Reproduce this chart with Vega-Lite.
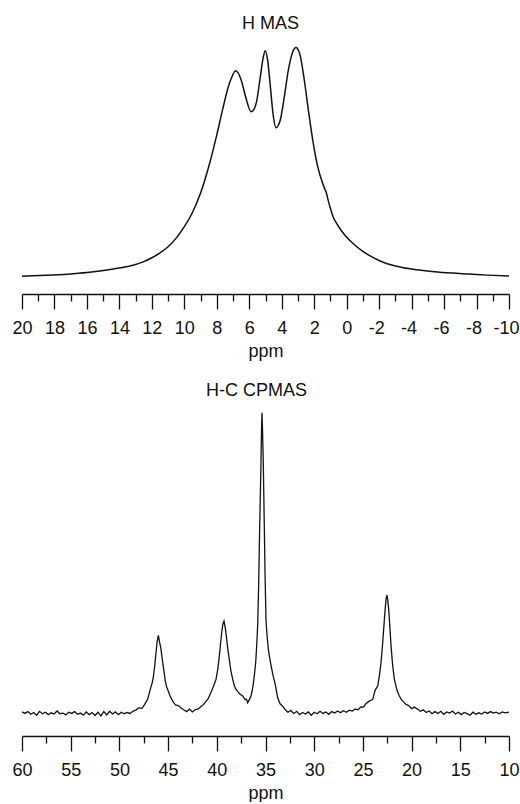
{
  "$schema": "https://vega.github.io/schema/vega-lite/v6.json",
  "background": "white",
  "padding": {"left": 11, "top": 15, "right": 0, "bottom": 0},
  "spacing": 22,
  "config": {
    "view": {"stroke": null},
    "font": "Liberation Sans",
    "title": {"fontSize": 18, "fontWeight": "normal", "color": "#111", "offset": 6, "anchor": "middle", "font": "Liberation Sans"},
    "axis": {"domainColor": "#111", "domainWidth": 1.3, "tickColor": "#111", "tickWidth": 1.3, "labelFontSize": 18, "labelColor": "#111", "titleFontSize": 18, "titleFontWeight": "normal", "titleColor": "#111", "grid": false, "labelFont": "Liberation Sans", "titleFont": "Liberation Sans"}
  },
  "datasets": {
    "hmas": [
      {"ppm": 20.0, "intensity": 0.1}, {"ppm": 18.5, "intensity": 0.5}, {"ppm": 17.2, "intensity": 1.0}, {"ppm": 16.0, "intensity": 1.7},
      {"ppm": 15.1, "intensity": 2.5}, {"ppm": 14.0, "intensity": 3.7}, {"ppm": 13.1, "intensity": 5.0}, {"ppm": 12.5, "intensity": 6.5},
      {"ppm": 12.0, "intensity": 8.2}, {"ppm": 11.5, "intensity": 10.3}, {"ppm": 11.0, "intensity": 13.0}, {"ppm": 10.5, "intensity": 16.8},
      {"ppm": 10.0, "intensity": 21.8}, {"ppm": 9.5, "intensity": 28.0}, {"ppm": 9.0, "intensity": 36.5}, {"ppm": 8.5, "intensity": 48.0},
      {"ppm": 8.0, "intensity": 62.0}, {"ppm": 7.65, "intensity": 72.8},
      {"ppm": 7.25, "intensity": 84.0}, {"ppm": 7.0, "intensity": 88.5}, {"ppm": 6.86, "intensity": 90.0},
      {"ppm": 6.7, "intensity": 89.2}, {"ppm": 6.5, "intensity": 86.0}, {"ppm": 6.2, "intensity": 78.0}, {"ppm": 5.89, "intensity": 72.1},
      {"ppm": 5.7, "intensity": 73.3}, {"ppm": 5.55, "intensity": 76.5}, {"ppm": 5.32, "intensity": 87.4}, {"ppm": 5.13, "intensity": 96.2},
      {"ppm": 5.01, "intensity": 98.8}, {"ppm": 4.87, "intensity": 94.8}, {"ppm": 4.7, "intensity": 83.1}, {"ppm": 4.54, "intensity": 71.4},
      {"ppm": 4.35, "intensity": 65.1}, {"ppm": 4.2, "intensity": 66.3}, {"ppm": 4.09, "intensity": 68.5}, {"ppm": 3.84, "intensity": 78.7},
      {"ppm": 3.59, "intensity": 90.4}, {"ppm": 3.32, "intensity": 98.4}, {"ppm": 3.12, "intensity": 100.2}, {"ppm": 2.95, "intensity": 98.6},
      {"ppm": 2.87, "intensity": 96.9}, {"ppm": 2.61, "intensity": 86.0}, {"ppm": 2.36, "intensity": 72.9}, {"ppm": 2.09, "intensity": 59.7},
      {"ppm": 1.78, "intensity": 48.0}, {"ppm": 1.48, "intensity": 40.8}, {"ppm": 1.32, "intensity": 37.8}, {"ppm": 1.27, "intensity": 37.1},
      {"ppm": 1.17, "intensity": 34.2}, {"ppm": 1.0, "intensity": 29.8}, {"ppm": 0.86, "intensity": 26.6}, {"ppm": 0.6, "intensity": 23.0},
      {"ppm": 0.3, "intensity": 19.8}, {"ppm": 0.0, "intensity": 17.2}, {"ppm": -0.5, "intensity": 13.8}, {"ppm": -1.0, "intensity": 11.0},
      {"ppm": -1.5, "intensity": 8.8}, {"ppm": -2.0, "intensity": 7.0}, {"ppm": -2.5, "intensity": 5.6}, {"ppm": -3.0, "intensity": 4.6},
      {"ppm": -3.5, "intensity": 3.85}, {"ppm": -4.3, "intensity": 3.0},
      {"ppm": -5.4, "intensity": 2.1}, {"ppm": -6.5, "intensity": 1.5}, {"ppm": -7.5, "intensity": 1.1},
      {"ppm": -8.7, "intensity": 0.6}, {"ppm": -10.0, "intensity": 0.2}
    ],
    "cpmas": [
      {"ppm": 60.0, "intensity": 0.3}, {"ppm": 59.7, "intensity": -0.2}, {"ppm": 59.4, "intensity": 0.4}, {"ppm": 59.1, "intensity": -0.5},
      {"ppm": 58.8, "intensity": 0.1}, {"ppm": 58.5, "intensity": -0.8}, {"ppm": 58.2, "intensity": 0.5}, {"ppm": 57.9, "intensity": -0.3},
      {"ppm": 57.6, "intensity": 0.2}, {"ppm": 57.3, "intensity": -0.6}, {"ppm": 57.0, "intensity": 0.0}, {"ppm": 56.7, "intensity": -0.4},
      {"ppm": 56.4, "intensity": 0.6}, {"ppm": 56.1, "intensity": -0.3}, {"ppm": 55.8, "intensity": -0.1}, {"ppm": 55.5, "intensity": -0.7},
      {"ppm": 55.2, "intensity": 0.2}, {"ppm": 54.9, "intensity": -0.2}, {"ppm": 54.6, "intensity": 0.4}, {"ppm": 54.3, "intensity": -0.5},
      {"ppm": 54.0, "intensity": -0.1}, {"ppm": 53.7, "intensity": -0.8}, {"ppm": 53.4, "intensity": 0.3}, {"ppm": 53.1, "intensity": -0.6},
      {"ppm": 52.8, "intensity": 0.1}, {"ppm": 52.5, "intensity": -0.9}, {"ppm": 52.2, "intensity": 0.2}, {"ppm": 51.9, "intensity": -1.0},
      {"ppm": 51.6, "intensity": 0.4}, {"ppm": 51.3, "intensity": -0.7}, {"ppm": 51.0, "intensity": 0.5}, {"ppm": 50.7, "intensity": -0.4},
      {"ppm": 50.4, "intensity": 0.3}, {"ppm": 50.1, "intensity": -0.6}, {"ppm": 49.8, "intensity": 0.2}, {"ppm": 49.5, "intensity": -0.3},
      {"ppm": 49.2, "intensity": 0.1}, {"ppm": 48.9, "intensity": -0.2}, {"ppm": 48.6, "intensity": 0.6}, {"ppm": 48.3, "intensity": 0.9},
      {"ppm": 48.0, "intensity": 1.7}, {"ppm": 47.7, "intensity": 1.4}, {"ppm": 47.4, "intensity": 2.8}, {"ppm": 47.1, "intensity": 4.5},
      {"ppm": 46.83, "intensity": 7.8}, {"ppm": 46.65, "intensity": 9.8}, {"ppm": 46.52, "intensity": 11.7}, {"ppm": 46.38, "intensity": 15.5},
      {"ppm": 46.24, "intensity": 20.1}, {"ppm": 46.12, "intensity": 23.8}, {"ppm": 46.0, "intensity": 25.8}, {"ppm": 45.87, "intensity": 23.5},
      {"ppm": 45.73, "intensity": 21.2}, {"ppm": 45.6, "intensity": 17.8}, {"ppm": 45.45, "intensity": 14.5}, {"ppm": 45.3, "intensity": 10.8},
      {"ppm": 45.15, "intensity": 8.6}, {"ppm": 45.04, "intensity": 7.8}, {"ppm": 44.8, "intensity": 5.6}, {"ppm": 44.53, "intensity": 3.9},
      {"ppm": 44.25, "intensity": 2.6}, {"ppm": 43.95, "intensity": 2.4}, {"ppm": 43.67, "intensity": 1.6}, {"ppm": 43.4, "intensity": 1.0},
      {"ppm": 43.1, "intensity": 0.4}, {"ppm": 42.8, "intensity": 1.2}, {"ppm": 42.5, "intensity": 0.3}, {"ppm": 42.2, "intensity": 1.1},
      {"ppm": 41.9, "intensity": 1.3}, {"ppm": 41.62, "intensity": 2.1}, {"ppm": 41.35, "intensity": 2.8}, {"ppm": 41.1, "intensity": 3.9},
      {"ppm": 40.9, "intensity": 4.6}, {"ppm": 40.77, "intensity": 5.6}, {"ppm": 40.5, "intensity": 7.5}, {"ppm": 40.3, "intensity": 9.2},
      {"ppm": 40.08, "intensity": 11.2}, {"ppm": 39.9, "intensity": 14.5}, {"ppm": 39.74, "intensity": 18.9}, {"ppm": 39.6, "intensity": 23.5},
      {"ppm": 39.5, "intensity": 26.7}, {"ppm": 39.38, "intensity": 29.5}, {"ppm": 39.26, "intensity": 30.6}, {"ppm": 39.14, "intensity": 28.5},
      {"ppm": 39.02, "intensity": 25.6}, {"ppm": 38.88, "intensity": 21.5}, {"ppm": 38.72, "intensity": 17.8}, {"ppm": 38.55, "intensity": 14.0},
      {"ppm": 38.37, "intensity": 11.2}, {"ppm": 38.2, "intensity": 9.0}, {"ppm": 38.03, "intensity": 7.8}, {"ppm": 37.8, "intensity": 6.9},
      {"ppm": 37.6, "intensity": 6.2}, {"ppm": 37.34, "intensity": 5.6}, {"ppm": 37.1, "intensity": 4.4}, {"ppm": 36.95, "intensity": 4.5},
      {"ppm": 36.83, "intensity": 3.4}, {"ppm": 36.65, "intensity": 4.4}, {"ppm": 36.49, "intensity": 5.6}, {"ppm": 36.3, "intensity": 8.5},
      {"ppm": 36.15, "intensity": 12.3}, {"ppm": 36.0, "intensity": 17.0}, {"ppm": 35.87, "intensity": 24.5}, {"ppm": 35.8, "intensity": 29.5},
      {"ppm": 35.7, "intensity": 43.0}, {"ppm": 35.6, "intensity": 61.7}, {"ppm": 35.52, "intensity": 74.0}, {"ppm": 35.46, "intensity": 83.9},
      {"ppm": 35.41, "intensity": 94.0}, {"ppm": 35.36, "intensity": 100.0}, {"ppm": 35.31, "intensity": 95.0}, {"ppm": 35.23, "intensity": 83.9},
      {"ppm": 35.12, "intensity": 61.7}, {"ppm": 35.04, "intensity": 45.0}, {"ppm": 34.95, "intensity": 31.0}, {"ppm": 34.85, "intensity": 26.0},
      {"ppm": 34.7, "intensity": 21.0}, {"ppm": 34.5, "intensity": 17.0}, {"ppm": 34.26, "intensity": 13.0}, {"ppm": 34.0, "intensity": 9.5},
      {"ppm": 33.75, "intensity": 5.0}, {"ppm": 33.5, "intensity": 3.0}, {"ppm": 33.25, "intensity": 2.2}, {"ppm": 33.0, "intensity": 1.2},
      {"ppm": 32.7, "intensity": 0.2}, {"ppm": 32.4, "intensity": 0.8}, {"ppm": 32.1, "intensity": -0.3}, {"ppm": 31.8, "intensity": 0.5},
      {"ppm": 31.5, "intensity": -0.6}, {"ppm": 31.2, "intensity": 0.1}, {"ppm": 30.9, "intensity": -0.4}, {"ppm": 30.6, "intensity": 0.3},
      {"ppm": 30.3, "intensity": -0.8}, {"ppm": 30.0, "intensity": 0.2}, {"ppm": 29.7, "intensity": -0.3}, {"ppm": 29.4, "intensity": 0.5},
      {"ppm": 29.1, "intensity": -0.2}, {"ppm": 28.8, "intensity": 0.3}, {"ppm": 28.5, "intensity": -0.5}, {"ppm": 28.2, "intensity": 0.4},
      {"ppm": 27.9, "intensity": -0.1}, {"ppm": 27.6, "intensity": 0.6}, {"ppm": 27.3, "intensity": 0.0}, {"ppm": 27.0, "intensity": 0.7},
      {"ppm": 26.7, "intensity": 0.2}, {"ppm": 26.4, "intensity": 0.9}, {"ppm": 26.1, "intensity": 0.6}, {"ppm": 25.8, "intensity": 1.3},
      {"ppm": 25.5, "intensity": 1.0}, {"ppm": 25.2, "intensity": 2.0}, {"ppm": 24.95, "intensity": 1.9}, {"ppm": 24.7, "intensity": 3.0},
      {"ppm": 24.4, "intensity": 3.8}, {"ppm": 24.15, "intensity": 4.2}, {"ppm": 23.99, "intensity": 4.5}, {"ppm": 23.75, "intensity": 7.5},
      {"ppm": 23.48, "intensity": 8.9}, {"ppm": 23.3, "intensity": 12.5}, {"ppm": 23.14, "intensity": 16.7}, {"ppm": 23.0, "intensity": 22.0},
      {"ppm": 22.87, "intensity": 27.8}, {"ppm": 22.75, "intensity": 33.0}, {"ppm": 22.63, "intensity": 37.8}, {"ppm": 22.53, "intensity": 39.2},
      {"ppm": 22.45, "intensity": 37.5}, {"ppm": 22.35, "intensity": 34.5}, {"ppm": 22.22, "intensity": 28.0}, {"ppm": 22.11, "intensity": 22.3},
      {"ppm": 21.95, "intensity": 16.0}, {"ppm": 21.77, "intensity": 11.2}, {"ppm": 21.5, "intensity": 7.5}, {"ppm": 21.26, "intensity": 5.6},
      {"ppm": 21.0, "intensity": 4.2}, {"ppm": 20.75, "intensity": 3.4}, {"ppm": 20.57, "intensity": 2.8}, {"ppm": 20.3, "intensity": 2.4},
      {"ppm": 20.0, "intensity": 1.4}, {"ppm": 19.7, "intensity": 1.9}, {"ppm": 19.37, "intensity": 1.2}, {"ppm": 19.1, "intensity": 0.5},
      {"ppm": 18.8, "intensity": 1.0}, {"ppm": 18.5, "intensity": 0.1}, {"ppm": 18.2, "intensity": 0.6}, {"ppm": 17.9, "intensity": -0.3},
      {"ppm": 17.6, "intensity": 0.4}, {"ppm": 17.3, "intensity": -0.2}, {"ppm": 17.0, "intensity": 0.5}, {"ppm": 16.7, "intensity": -0.5},
      {"ppm": 16.4, "intensity": 0.3}, {"ppm": 16.1, "intensity": -0.1}, {"ppm": 15.8, "intensity": 0.6}, {"ppm": 15.5, "intensity": -0.4},
      {"ppm": 15.2, "intensity": 0.2}, {"ppm": 14.9, "intensity": -0.6}, {"ppm": 14.6, "intensity": 0.1}, {"ppm": 14.3, "intensity": -0.3},
      {"ppm": 14.0, "intensity": -0.8}, {"ppm": 13.7, "intensity": 0.2}, {"ppm": 13.4, "intensity": -0.5}, {"ppm": 13.1, "intensity": 0.0},
      {"ppm": 12.8, "intensity": -0.4}, {"ppm": 12.5, "intensity": 0.3}, {"ppm": 12.2, "intensity": -0.2}, {"ppm": 11.9, "intensity": 0.4},
      {"ppm": 11.6, "intensity": -0.1}, {"ppm": 11.3, "intensity": 0.2}, {"ppm": 11.0, "intensity": -0.3}, {"ppm": 10.7, "intensity": 0.3},
      {"ppm": 10.4, "intensity": 0.0}, {"ppm": 10.0, "intensity": 0.2}
    ]
  },
  "vconcat": [
    {
      "width": 487,
      "height": 255,
      "title": {"text": "H MAS", "dx": 5},
      "data": {"name": "hmas"},
      "mark": {"type": "line", "color": "#111", "strokeWidth": 1.5, "interpolate": "monotone"},
      "encoding": {
        "x": {
          "field": "ppm", "type": "quantitative",
          "scale": {"domain": [-10, 20], "reverse": true, "nice": false, "zero": false},
          "axis": {
            "title": "ppm",
            "values": [-10, -9, -8, -7, -6, -5, -4, -3, -2, -1, 0, 1, 2, 3, 4, 5, 6, 7, 8, 9, 10, 11, 12, 13, 14, 15, 16, 17, 18, 19, 20],
            "tickSize": {"condition": {"test": "datum.value % 2 === 0", "value": 15}, "value": 7},
            "labelOffset": {"condition": {"test": "datum.value < 0", "value": -3}, "value": 0},
            "labelExpr": "datum.value % 2 === 0 ? '' + datum.value : ''",
            "labelOverlap": false,
            "labelFlush": false,
            "labelPadding": 10,
            "titlePadding": 5
          }
        },
        "y": {"field": "intensity", "type": "quantitative", "scale": {"domain": [-7.66, 103.94], "nice": false, "zero": false}, "axis": null}
      }
    },
    {
      "width": 487,
      "height": 330,
      "title": {"text": "H-C CPMAS", "dx": -9},
      "data": {"name": "cpmas"},
      "mark": {"type": "line", "color": "#111", "strokeWidth": 1.3, "interpolate": "linear"},
      "encoding": {
        "x": {
          "field": "ppm", "type": "quantitative",
          "scale": {"domain": [10, 60], "reverse": true, "nice": false, "zero": false},
          "axis": {
            "title": "ppm",
            "values": [10, 12.5, 15, 17.5, 20, 22.5, 25, 27.5, 30, 32.5, 35, 37.5, 40, 42.5, 45, 47.5, 50, 52.5, 55, 57.5, 60],
            "tickSize": {"condition": {"test": "datum.value % 5 === 0", "value": 15}, "value": 7},
            "labelExpr": "datum.value % 5 === 0 ? '' + datum.value : ''",
            "labelOverlap": false,
            "labelFlush": false,
            "labelPadding": 10,
            "titlePadding": 5
          }
        },
        "y": {"field": "intensity", "type": "quantitative", "scale": {"domain": [-7.73, 102.27], "nice": false, "zero": false}, "axis": null}
      }
    }
  ]
}
